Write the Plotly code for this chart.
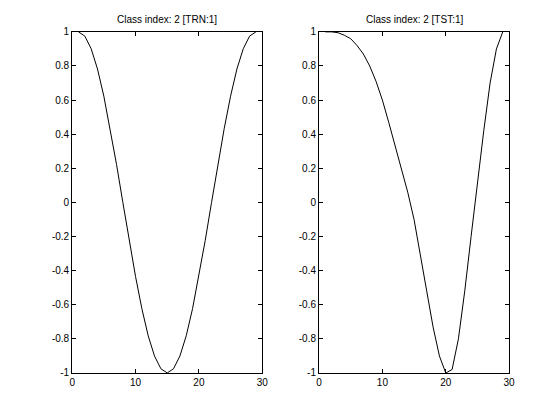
import plotly.graph_objs as go

x = list(range(1, 30))
trn = [1, 0.975, 0.901, 0.782, 0.623, 0.434, 0.223, 0.0, -0.223, -0.434,
       -0.623, -0.782, -0.901, -0.975, -1.0, -0.975, -0.901, -0.782, -0.623,
       -0.434, -0.223, 0.0, 0.223, 0.434, 0.623, 0.782, 0.901, 0.975, 1.0]
tst = [1, 1, 0.995, 0.98, 0.96, 0.92, 0.87, 0.80, 0.71, 0.60, 0.47, 0.33,
       0.20, 0.06, -0.10, -0.30, -0.52, -0.73, -0.90, -1.0, -0.98, -0.80,
       -0.52, -0.20, 0.12, 0.42, 0.70, 0.90, 1.0]
titles = ["Class index: 2 [TRN:1]", "Class index: 2 [TST:1]"]

fig = go.Figure()
fig.add_trace(go.Scatter(x=x, y=trn, mode="lines", line=dict(color="black", width=1),
                         xaxis="x", yaxis="y"))
fig.add_trace(go.Scatter(x=x, y=tst, mode="lines", line=dict(color="black", width=1),
                         xaxis="x2", yaxis="y2"))

ax = dict(showline=True, linecolor="black", linewidth=1, mirror="ticks", ticks="inside",
          ticklen=4, tickcolor="black", showgrid=False, zeroline=False,
          tickfont=dict(family="Liberation Sans", size=10, color="black"))
xa = dict(ax, range=[0, 30], tickvals=[0, 10, 20, 30])
ya = dict(ax, range=[-1, 1], tickvals=[-1, -0.8, -0.6, -0.4, -0.2, 0, 0.2, 0.4, 0.6, 0.8, 1],
          ticktext=["-1", "-0.8", "-0.6", "-0.4", "-0.2", "0", "0.2", "0.4", "0.6", "0.8", "1"])
tfont = dict(family="Liberation Sans", size=10, color="black")

fig.update_layout(
    width=560, height=420, margin=dict(l=0, r=0, t=0, b=0),
    paper_bgcolor="white", plot_bgcolor="white", showlegend=False,
    xaxis=dict(xa, domain=[0.111, 0.456], anchor="y"),
    yaxis=dict(ya, domain=[0.122, 0.954], anchor="x"),
    xaxis2=dict(xa, domain=[0.559, 0.904], anchor="y2"),
    yaxis2=dict(ya, domain=[0.122, 0.954], anchor="x2"),
    annotations=[
        dict(text=titles[0], x=0.2835, y=0.983, xref="paper", yref="paper", showarrow=False,
             xanchor="center", yanchor="middle", font=tfont),
        dict(text=titles[1], x=0.7315, y=0.983, xref="paper", yref="paper", showarrow=False,
             xanchor="center", yanchor="middle", font=tfont),
    ],
)

fig.write_html("out.html")
